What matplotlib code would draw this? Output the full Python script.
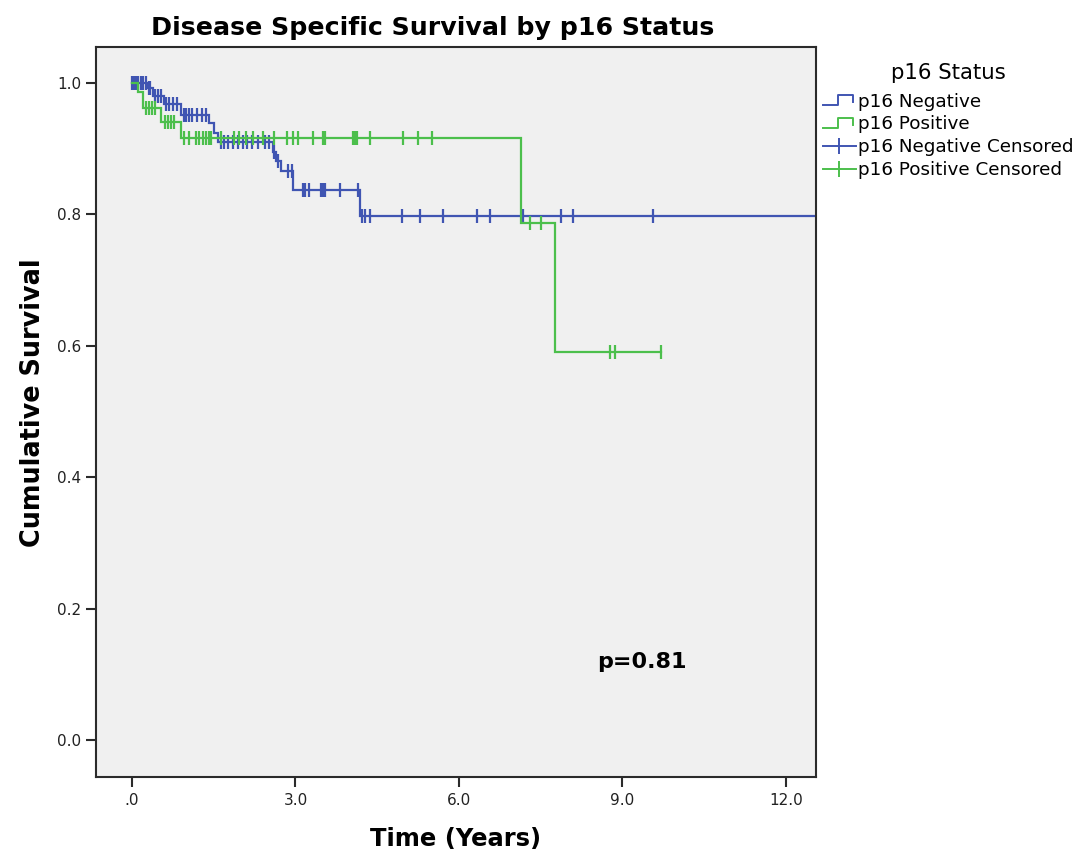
import numpy as np
import matplotlib
matplotlib.use("Agg")
import matplotlib.pyplot as plt
from matplotlib.lines import Line2D
from matplotlib.legend_handler import HandlerBase

# ---------------- data ----------------
neg_step_times = [0.0, 0.29, 0.38, 0.59, 0.90, 1.42, 1.50, 1.57, 2.58, 2.64, 2.73, 2.96, 4.19]
neg_step_surv = [1.0, 0.991, 0.979, 0.967, 0.951, 0.939, 0.924, 0.909, 0.894, 0.881, 0.866, 0.837, 0.797]
neg_end = 12.6
neg_censor = [0.0, 0.03, 0.06, 0.09, 0.12, 0.16, 0.20, 0.25, 0.31, 0.34, 0.42, 0.48, 0.53,
              0.62, 0.68, 0.75, 0.82, 0.95, 1.00, 1.05, 1.10, 1.20, 1.28, 1.35,
              1.63, 1.68, 1.76, 1.85, 1.94, 2.03, 2.12, 2.21, 2.32, 2.45, 2.51,
              2.60, 2.68, 2.87, 2.93, 3.13, 3.18, 3.24, 3.46, 3.51, 3.55, 3.82, 4.15,
              4.22, 4.28, 4.37, 4.96, 5.29, 5.71, 6.33, 6.57, 7.18, 7.88, 8.10, 9.56]

pos_step_times = [0.0, 0.12, 0.20, 0.53, 0.90, 7.13, 7.76]
pos_step_surv = [1.0, 0.985, 0.962, 0.940, 0.916, 0.786, 0.590]
pos_end = 9.71
pos_censor = [0.26, 0.31, 0.36, 0.42, 0.60, 0.66, 0.72, 0.78,
              0.95, 1.04, 1.17, 1.23, 1.30, 1.35, 1.41, 1.45, 1.63, 1.87, 1.96, 2.09,
              2.23, 2.41, 2.60, 2.85, 2.95, 3.05, 3.33, 3.51, 3.55, 4.06, 4.10, 4.13,
              4.37, 4.98, 5.25, 5.51, 7.30, 7.50, 8.78, 8.87, 9.71]

x_ticks = [0, 3, 6, 9, 12]
x_ticklabels = [".0", "3.0", "6.0", "9.0", "12.0"]
y_ticks = [0.0, 0.2, 0.4, 0.6, 0.8, 1.0]
y_ticklabels = ["0.0", "0.2", "0.4", "0.6", "0.8", "1.0"]
legend_labels = ["p16 Negative", "p16 Positive", "p16 Negative Censored", "p16 Positive Censored"]

BLUE = "#4055B2"
GREEN = "#4CBF4C"
FRAME = "#2b2b2b"


def level_at(times, surv, t):
    idx = np.searchsorted(np.asarray(times), t, side="right") - 1
    return np.asarray(surv)[idx]


fig = plt.figure(figsize=(10.82, 8.60), dpi=100)
ax = fig.add_axes([0.0887, 0.0965, 0.6654, 0.8488])
ax.set_facecolor("#F0F0F0")

for times, surv, end, cens, col in [
        (neg_step_times, neg_step_surv, neg_end, neg_censor, BLUE),
        (pos_step_times, pos_step_surv, pos_end, pos_censor, GREEN)]:
    xs = list(times) + [end]
    ys = list(surv) + [surv[-1]]
    ax.step(xs, ys, where="post", color=col, lw=1.6, solid_joinstyle="miter")
    cy = [level_at(times, surv, t) for t in cens]
    ax.plot(cens, cy, linestyle="none", marker="|", markersize=9.5,
            markeredgewidth=1.6, color=col)

ax.set_xlim(-0.66, 12.55)
ax.set_ylim(-0.0555, 1.054)
ax.set_xticks(x_ticks)
ax.set_xticklabels(x_ticklabels)
ax.set_yticks(y_ticks)
ax.set_yticklabels(y_ticklabels)
for sp in ax.spines.values():
    sp.set_color(FRAME)
    sp.set_linewidth(1.5)
ax.tick_params(axis="both", length=7.5, width=1.5, color=FRAME, labelsize=11,
               labelcolor="#222222", pad=4)
ax.tick_params(axis="y", pad=3)

ax.set_xlabel("Time (Years)", fontsize=17.5, fontweight="bold", labelpad=14)
fig.text(33 / 1082, 1 - 403 / 860, "Cumulative Survival", rotation=90, ha="center",
         va="center", fontsize=18.4, fontweight="bold")
fig.text(0.4, 0.967, "Disease Specific Survival by p16 Status", ha="center", va="center",
         fontsize=18.2, fontweight="bold")
ax.text(9.36, 0.12, "p=0.81", fontsize=16, fontweight="bold", ha="center", va="center")


class StepHandler(HandlerBase):
    def __init__(self, color):
        super().__init__()
        self.color = color

    def create_artists(self, legend, orig_handle, xdescent, ydescent, width, height,
                       fontsize, trans):
        x0, y0 = -xdescent, -ydescent
        xs = [x0, x0 + 0.45 * width, x0 + 0.45 * width, x0 + 0.92 * width, x0 + 0.92 * width]
        ys = [y0 + 0.1 * height, y0 + 0.1 * height, y0 + 0.9 * height, y0 + 0.9 * height,
              y0 + 0.35 * height]
        ln = Line2D(xs, ys, color=self.color, lw=1.4, transform=trans)
        return [ln]


class CensorHandler(HandlerBase):
    def __init__(self, color):
        super().__init__()
        self.color = color

    def create_artists(self, legend, orig_handle, xdescent, ydescent, width, height,
                       fontsize, trans):
        x0, y0 = -xdescent, -ydescent
        ym = y0 + 0.5 * height
        ln = Line2D([x0, x0 + width], [ym, ym], color=self.color, lw=1.4, transform=trans)
        mk = Line2D([x0 + 0.5 * width], [ym], marker="|", markersize=11,
                    markeredgewidth=1.4, color=self.color, linestyle="none", transform=trans)
        return [ln, mk]


h_neg = Line2D([], [], color=BLUE)
h_pos = Line2D([], [], color=GREEN)
h_negc = Line2D([], [], color=BLUE, marker="|")
h_posc = Line2D([], [], color=GREEN, marker="|")
leg = fig.legend([h_neg, h_pos, h_negc, h_posc], legend_labels,
                 handler_map={h_neg: StepHandler(BLUE), h_pos: StepHandler(GREEN),
                              h_negc: CensorHandler(BLUE), h_posc: CensorHandler(GREEN)},
                 loc="upper left", bbox_to_anchor=(0.757, 0.931), frameon=False,
                 fontsize=13.2, title="p16 Status", title_fontsize=15.3,
                 handlelength=1.8, handletextpad=0.15, labelspacing=0.26,
                 borderaxespad=0, borderpad=0.2)
leg._legend_box.sep = 7

fig.savefig("out.png", dpi=100, facecolor="white")
